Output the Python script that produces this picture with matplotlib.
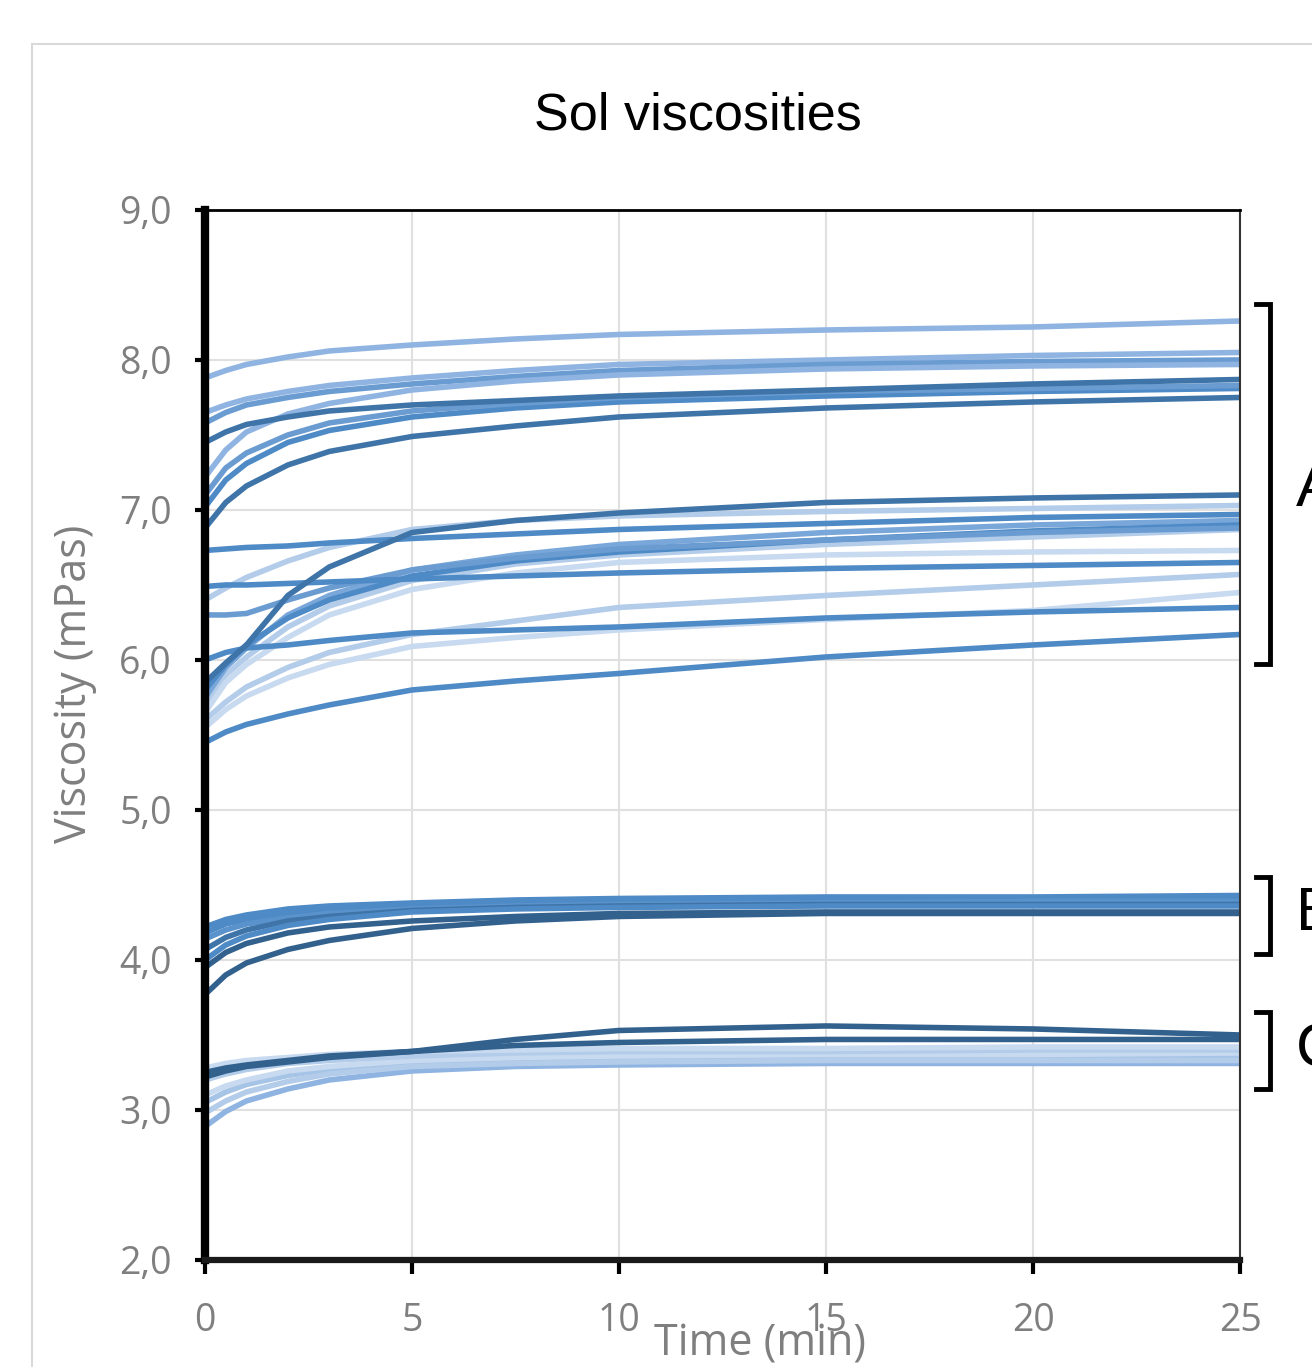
import matplotlib.pyplot as plt
from matplotlib.patches import Rectangle

# --------------------------------------------------------------------------------------
# data
t = [0, 0.5, 1, 2, 3, 5, 7.5, 10, 15, 20, 25]

# group A, upper band
a1 = [7.88, 7.93, 7.97, 8.02, 8.06, 8.10, 8.14, 8.17, 8.20, 8.22, 8.26]
a2 = [7.65, 7.70, 7.74, 7.79, 7.83, 7.88, 7.93, 7.97, 8.00, 8.03, 8.05]
a3 = [7.58, 7.65, 7.70, 7.75, 7.79, 7.84, 7.89, 7.93, 7.97, 7.99, 8.00]
a4 = [7.22, 7.40, 7.52, 7.64, 7.71, 7.80, 7.86, 7.90, 7.94, 7.96, 7.97]
a5 = [7.45, 7.52, 7.57, 7.62, 7.66, 7.70, 7.73, 7.76, 7.80, 7.84, 7.87]
a6 = [7.02, 7.20, 7.31, 7.45, 7.53, 7.62, 7.68, 7.72, 7.76, 7.79, 7.81]
a7 = [6.88, 7.05, 7.16, 7.30, 7.39, 7.49, 7.56, 7.62, 7.68, 7.72, 7.75]
a8 = [7.10, 7.28, 7.38, 7.50, 7.58, 7.66, 7.71, 7.75, 7.79, 7.81, 7.83]

# group A, lower band
l1 = [6.73, 6.74, 6.75, 6.76, 6.78, 6.81, 6.84, 6.87, 6.91, 6.95, 6.97]
l2 = [6.49, 6.50, 6.50, 6.51, 6.52, 6.54, 6.56, 6.58, 6.61, 6.63, 6.65]
l3 = [6.00, 6.05, 6.08, 6.10, 6.13, 6.18, 6.20, 6.22, 6.28, 6.32, 6.35]
l4 = [6.30, 6.30, 6.31, 6.40, 6.48, 6.60, 6.68, 6.74, 6.80, 6.85, 6.88]
d1 = [5.85, 5.98, 6.10, 6.43, 6.62, 6.85, 6.93, 6.98, 7.05, 7.08, 7.10]
t1 = [6.40, 6.48, 6.55, 6.66, 6.75, 6.87, 6.93, 6.96, 6.99, 7.01, 7.03]
lb1 = [5.75, 5.95, 6.08, 6.30, 6.43, 6.60, 6.70, 6.77, 6.85, 6.90, 6.93]
lb2 = [5.70, 5.90, 6.02, 6.22, 6.36, 6.53, 6.64, 6.70, 6.77, 6.82, 6.87]
lb3 = [5.65, 5.85, 5.97, 6.15, 6.30, 6.47, 6.58, 6.65, 6.70, 6.72, 6.73]
lb4 = [5.80, 5.97, 6.10, 6.28, 6.40, 6.56, 6.66, 6.72, 6.80, 6.86, 6.90]
ll1 = [5.60, 5.72, 5.82, 5.95, 6.05, 6.17, 6.26, 6.35, 6.43, 6.50, 6.57]
ll2 = [5.55, 5.67, 5.76, 5.88, 5.97, 6.09, 6.15, 6.20, 6.27, 6.33, 6.45]
bot = [5.45, 5.52, 5.57, 5.64, 5.70, 5.80, 5.86, 5.91, 6.02, 6.10, 6.17]

# group B
b1 = [4.22, 4.27, 4.30, 4.34, 4.36, 4.38, 4.40, 4.41, 4.42, 4.42, 4.43]
b2 = [4.18, 4.24, 4.27, 4.31, 4.34, 4.36, 4.38, 4.39, 4.40, 4.41, 4.41]
b3 = [4.14, 4.20, 4.24, 4.28, 4.31, 4.34, 4.36, 4.37, 4.38, 4.39, 4.39]
b4 = [4.07, 4.15, 4.20, 4.26, 4.29, 4.33, 4.35, 4.36, 4.37, 4.37, 4.37]
b5 = [3.95, 4.05, 4.11, 4.18, 4.22, 4.26, 4.29, 4.31, 4.32, 4.32, 4.32]
b6 = [3.77, 3.90, 3.98, 4.07, 4.13, 4.21, 4.26, 4.29, 4.31, 4.31, 4.31]
b7 = [4.00, 4.10, 4.16, 4.23, 4.27, 4.32, 4.34, 4.35, 4.36, 4.36, 4.36]

# group C
c1 = [3.25, 3.28, 3.30, 3.33, 3.36, 3.39, 3.47, 3.53, 3.56, 3.54, 3.50]
c2 = [3.22, 3.26, 3.29, 3.32, 3.35, 3.39, 3.43, 3.45, 3.47, 3.47, 3.47]
c3 = [3.28, 3.31, 3.33, 3.35, 3.37, 3.39, 3.40, 3.41, 3.41, 3.42, 3.42]
c4 = [3.20, 3.24, 3.27, 3.31, 3.33, 3.36, 3.38, 3.39, 3.39, 3.40, 3.40]
c5 = [3.10, 3.16, 3.20, 3.26, 3.29, 3.33, 3.35, 3.36, 3.37, 3.37, 3.38]
c6 = [3.05, 3.12, 3.17, 3.23, 3.27, 3.31, 3.33, 3.34, 3.35, 3.35, 3.35]
c7 = [2.98, 3.06, 3.12, 3.19, 3.24, 3.29, 3.31, 3.32, 3.33, 3.33, 3.33]
c8 = [2.89, 2.99, 3.06, 3.14, 3.20, 3.26, 3.29, 3.30, 3.31, 3.31, 3.31]

# colours
dark = '#33618e'
dark2 = '#3f74a8'
med = '#4e8ac6'
lmed = '#8fb4e2'
light = '#b3cce9'
vlight = '#c8daf0'

curves = [
    (a1, lmed), (a2, lmed), (a3, '#6a9cd2'), (a4, lmed), (a6, med), (a8, '#6a9cd2'),
    (a7, dark2), (a5, dark2),
    (lb2, light), (lb3, vlight), (ll1, light), (ll2, vlight), (t1, light),
    (lb1, '#7aa7d9'), (lb4, med), (l4, '#6a9cd2'), (l1, med), (l2, med), (l3, med),
    (d1, dark2), (bot, med),
    (b1, med), (b2, med), (b3, '#5a93cc'), (b4, dark2), (b7, med), (b5, dark), (b6, dark),
    (c8, lmed), (c6, '#a6c4e6'), (c7, light), (c5, vlight), (c4, light), (c3, vlight),
    (c2, dark), (c1, dark),
]

# --------------------------------------------------------------------------------------
fig = plt.figure(figsize=(13.12, 13.67), dpi=100)
ax = fig.add_axes([0.1563, 0.0783, 0.7889, 0.7681])

# outer chart border
fig.patches.append(Rectangle((32/1312, -0.1), 1.2, 0.1 + 1 - 44/1367, transform=fig.transFigure,
                             fill=False, edgecolor='#d9d9d9', linewidth=1.5))

for y, c in curves:
    ax.plot(t, y, color=c, linewidth=4, solid_capstyle='butt', zorder=3)

ax.set_xlim(0, 25)
ax.set_ylim(2, 9)
ax.set_xticks([0, 5, 10, 15, 20, 25])
ax.set_yticks([2, 3, 4, 5, 6, 7, 8, 9])
ax.set_yticklabels(['2,0', '3,0', '4,0', '5,0', '6,0', '7,0', '8,0', '9,0'])
ax.grid(True, color='#e0e0e0', linewidth=1.5, zorder=0)
ax.set_axisbelow(True)

for lab in ax.get_xticklabels() + ax.get_yticklabels():
    lab.set_fontfamily('Open Sans')
    lab.set_fontsize(27)
    lab.set_color('#7f7f7f')
ax.tick_params(axis='x', direction='out', length=10, width=3, color='black', pad=20)
ax.tick_params(axis='y', direction='out', length=7, width=3, color='black', pad=17)

ax.spines['left'].set_linewidth(6)
ax.spines['bottom'].set_linewidth(4.5)
ax.spines['bottom'].set_color('#1a1a1a')
ax.spines['top'].set_linewidth(2)
ax.spines['right'].set_linewidth(1.5)
ax.spines['right'].set_color('#333333')
for s in ax.spines.values():
    s.set_zorder(5)

fig.text(0.532, 0.915, 'Sol viscosities', fontsize=37.5, family='Liberation Sans',
         ha='center', va='center', color='black')
fig.text(0.057, 0.5, 'Viscosity (mPas)', fontsize=31, family='Open Sans', rotation=90,
         ha='center', va='center', color='#7f7f7f')
fig.text(0.579, 0.017, 'Time (min)', fontsize=31, family='Open Sans',
         ha='center', va='center', color='#7f7f7f')

# brackets + group labels
brackets = [('A', 8.37, 5.97, 7.13), ('B', 4.55, 4.04, 4.30), ('C', 3.65, 3.14, 3.39)]
for name, top, bottom, mid in brackets:
    ax.plot([25.38, 25.72, 25.72, 25.38], [top, top, bottom, bottom], color='black',
            linewidth=3.5, clip_on=False, solid_joinstyle='miter')
    ax.text(26.35, mid, name, fontsize=44, family='Liberation Sans', ha='left', va='center',
            clip_on=False)

plt.savefig('out.png', dpi=100)
